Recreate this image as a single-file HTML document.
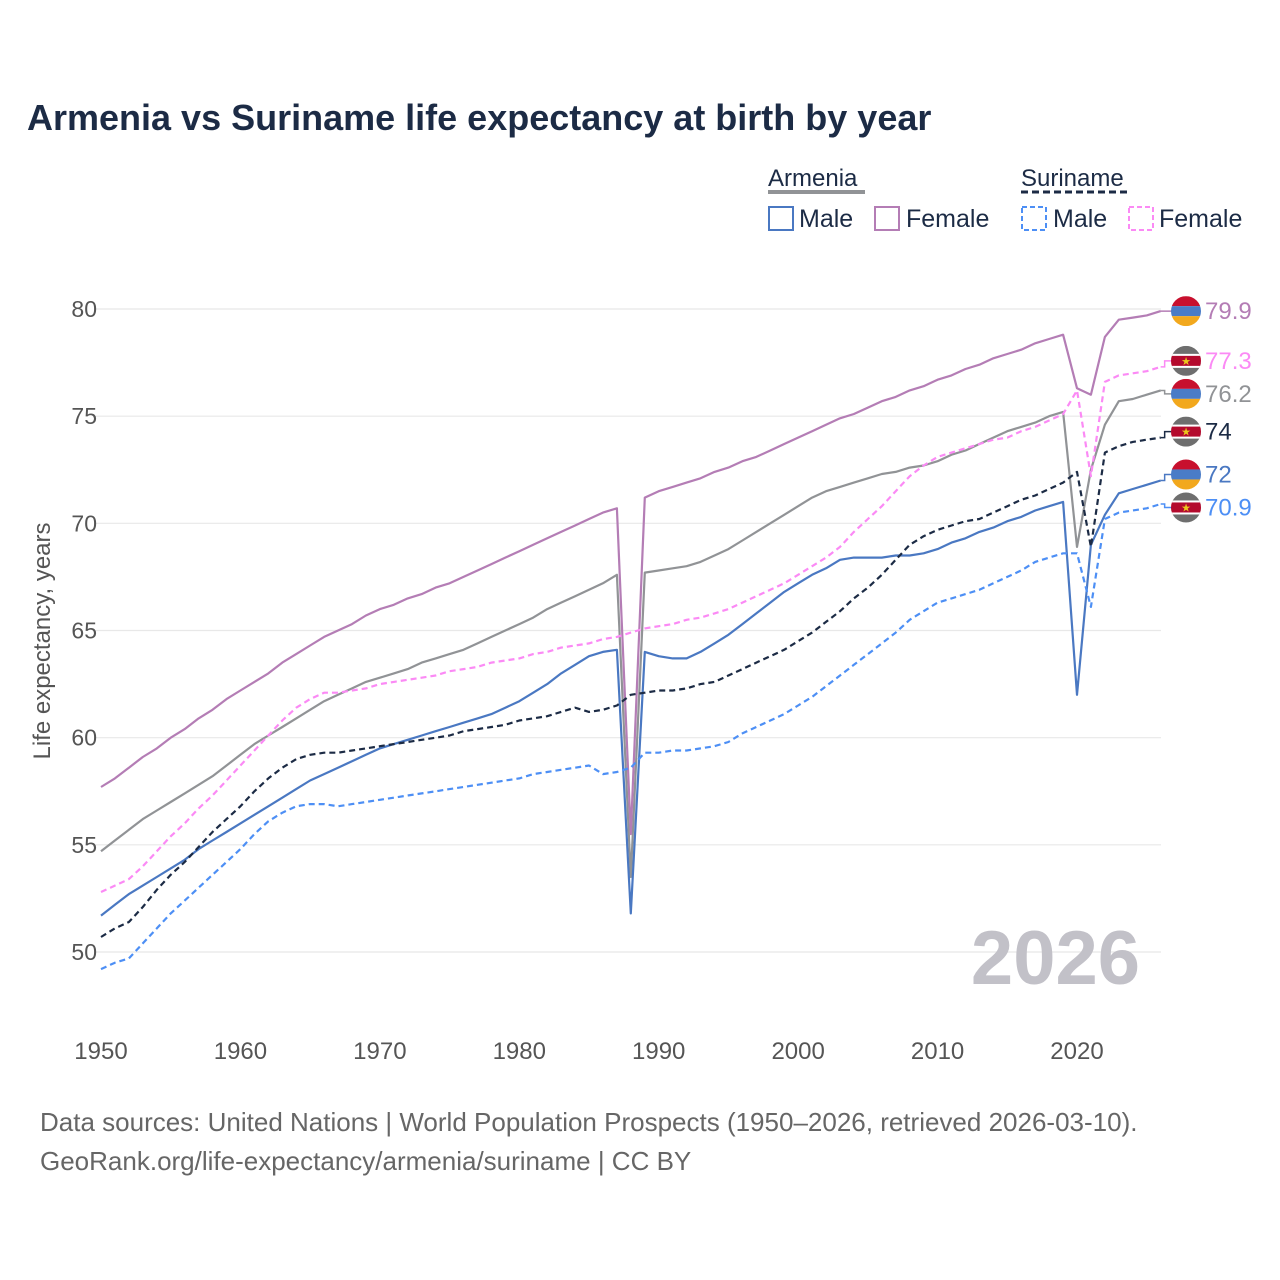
<!DOCTYPE html>
<html><head><meta charset="utf-8"><style>
html,body{margin:0;padding:0;background:#fff;}
svg{display:block;font-family:"Liberation Sans",sans-serif;}
</style></head><body>
<svg id="chart" width="1280" height="1280" viewBox="0 0 1280 1280" xmlns="http://www.w3.org/2000/svg">
<defs>
<clipPath id="fc"><circle cx="0" cy="0" r="15"/></clipPath>
</defs>
<text x="27" y="130" font-size="36" font-weight="bold" fill="#1c2b45">Armenia vs Suriname life expectancy at birth by year</text>
<g>
<text x="768" y="186" font-size="24" fill="#1c2b45">Armenia</text>
<line x1="768" y1="192" x2="865" y2="192" stroke="#919396" stroke-width="4"/>
<text x="1021" y="186" font-size="24" fill="#1c2b45">Suriname</text>
<line x1="1021" y1="192" x2="1129" y2="192" stroke="#1c2b45" stroke-width="3" stroke-dasharray="7,4"/>
<rect x="769" y="207" width="24" height="23" fill="none" stroke="#4a78c2" stroke-width="2"/>
<text x="799" y="227" font-size="25" fill="#1c2b45">Male</text>
<rect x="875" y="207" width="24" height="23" fill="none" stroke="#b47db5" stroke-width="2"/>
<text x="906" y="227" font-size="25" fill="#1c2b45">Female</text>
<rect x="1022" y="207" width="24" height="23" fill="none" stroke="#4d8ff5" stroke-width="2" stroke-dasharray="5,3"/>
<text x="1053" y="227" font-size="25" fill="#1c2b45">Male</text>
<rect x="1129" y="207" width="24" height="23" fill="none" stroke="#fb8af5" stroke-width="2" stroke-dasharray="5,3"/>
<text x="1159" y="227" font-size="25" fill="#1c2b45">Female</text>
</g>
<g id="grid"></g>
<g id="axes"></g>
<text x="1140" y="984" font-size="76" font-weight="bold" fill="#c2c1c8" text-anchor="end">2026</text>
<g id="series"></g>
<g id="labels"></g>
<text transform="translate(50,641) rotate(-90)" font-size="24" fill="#555" text-anchor="middle">Life expectancy, years</text>
<text x="40" y="1131" font-size="26" fill="#666">Data sources: United Nations | World Population Prospects (1950–2026, retrieved 2026-03-10).</text>
<text x="40" y="1170" font-size="26" fill="#666">GeoRank.org/life-expectancy/armenia/suriname | CC BY</text>
</svg>
<script>
const startYear = 1950;
const xTicks = [1950,1960,1970,1980,1990,2000,2010,2020];
const yTicks = [50,55,60,65,70,75,80];
const armeniaFemale = [57.7,58.1,58.6,59.1,59.5,60.0,60.4,60.9,61.3,61.8,62.2,62.6,63.0,63.5,63.9,64.3,64.7,65.0,65.3,65.7,66.0,66.2,66.5,66.7,67.0,67.2,67.5,67.8,68.1,68.4,68.7,69.0,69.3,69.6,69.9,70.2,70.5,70.7,55.5,71.2,71.5,71.7,71.9,72.1,72.4,72.6,72.9,73.1,73.4,73.7,74.0,74.3,74.6,74.9,75.1,75.4,75.7,75.9,76.2,76.4,76.7,76.9,77.2,77.4,77.7,77.9,78.1,78.4,78.6,78.8,76.3,76.0,78.7,79.5,79.6,79.7,79.9];
const armeniaTotal = [54.7,55.2,55.7,56.2,56.6,57.0,57.4,57.8,58.2,58.7,59.2,59.7,60.1,60.5,60.9,61.3,61.7,62.0,62.3,62.6,62.8,63.0,63.2,63.5,63.7,63.9,64.1,64.4,64.7,65.0,65.3,65.6,66.0,66.3,66.6,66.9,67.2,67.6,53.5,67.7,67.8,67.9,68.0,68.2,68.5,68.8,69.2,69.6,70.0,70.4,70.8,71.2,71.5,71.7,71.9,72.1,72.3,72.4,72.6,72.7,72.9,73.2,73.4,73.7,74.0,74.3,74.5,74.7,75.0,75.2,68.9,72.5,74.6,75.7,75.8,76.0,76.2];
const armeniaMale = [51.7,52.2,52.7,53.1,53.5,53.9,54.3,54.8,55.2,55.6,56.0,56.4,56.8,57.2,57.6,58.0,58.3,58.6,58.9,59.2,59.5,59.7,59.9,60.1,60.3,60.5,60.7,60.9,61.1,61.4,61.7,62.1,62.5,63.0,63.4,63.8,64.0,64.1,51.8,64.0,63.8,63.7,63.7,64.0,64.4,64.8,65.3,65.8,66.3,66.8,67.2,67.6,67.9,68.3,68.4,68.4,68.4,68.5,68.5,68.6,68.8,69.1,69.3,69.6,69.8,70.1,70.3,70.6,70.8,71.0,62.0,69.0,70.4,71.4,71.6,71.8,72.0];
const surinameFemale = [52.8,53.1,53.4,54.0,54.7,55.4,56.0,56.7,57.3,58.0,58.7,59.4,60.1,60.8,61.4,61.8,62.1,62.1,62.2,62.3,62.5,62.6,62.7,62.8,62.9,63.1,63.2,63.3,63.5,63.6,63.7,63.9,64.0,64.2,64.3,64.4,64.6,64.7,64.9,65.1,65.2,65.3,65.5,65.6,65.8,66.0,66.3,66.6,66.9,67.2,67.6,68.0,68.4,68.9,69.6,70.2,70.8,71.5,72.2,72.7,73.1,73.3,73.5,73.7,73.9,74.0,74.3,74.5,74.8,75.1,76.2,72.2,76.6,76.9,77.0,77.1,77.3];
const surinameTotal = [50.7,51.1,51.4,52.1,52.9,53.6,54.2,54.9,55.6,56.2,56.8,57.5,58.1,58.6,59.0,59.2,59.3,59.3,59.4,59.5,59.6,59.7,59.8,59.9,60.0,60.1,60.3,60.4,60.5,60.6,60.8,60.9,61.0,61.2,61.4,61.2,61.3,61.5,62.0,62.1,62.2,62.2,62.3,62.5,62.6,62.9,63.2,63.5,63.8,64.1,64.5,64.9,65.4,65.9,66.5,67.0,67.6,68.3,69.0,69.4,69.7,69.9,70.1,70.2,70.5,70.8,71.1,71.3,71.6,71.9,72.4,68.9,73.3,73.6,73.8,73.9,74.0];
const surinameMale = [49.2,49.5,49.7,50.4,51.1,51.8,52.4,53.0,53.6,54.2,54.8,55.5,56.1,56.5,56.8,56.9,56.9,56.8,56.9,57.0,57.1,57.2,57.3,57.4,57.5,57.6,57.7,57.8,57.9,58.0,58.1,58.3,58.4,58.5,58.6,58.7,58.3,58.4,58.6,59.3,59.3,59.4,59.4,59.5,59.6,59.8,60.2,60.5,60.8,61.1,61.5,61.9,62.4,62.9,63.4,63.9,64.4,64.9,65.5,65.9,66.3,66.5,66.7,66.9,67.2,67.5,67.8,68.2,68.4,68.6,68.6,66.1,70.2,70.5,70.6,70.7,70.9];
const endLabels = ["79.9","77.3","76.2","74","72","70.9"];

const NS="http://www.w3.org/2000/svg";
const X0=101, X1=1077, Y80=309, Y50=952;
function xs(yr){return X0+(yr-1950)*(X1-X0)/70;}
function ys(v){return Y50-(v-50)*(Y50-Y80)/30;}
function mk(tag,attrs,parent){const e=document.createElementNS(NS,tag);for(const k in attrs)e.setAttribute(k,attrs[k]);parent.appendChild(e);return e;}

const grid=document.getElementById('grid'), axes=document.getElementById('axes');
yTicks.forEach(t=>{
  const l=mk('line',{x1:95,x2:1161,y1:ys(t),y2:ys(t),stroke:'#e8e8e8','stroke-width':1.2},grid);
  
  
  const tx=mk('text',{x:97,y:ys(t)+8,'font-size':23,fill:'#555','text-anchor':'end'},axes);
  tx.textContent=t;
  
  
});
xTicks.forEach(t=>{
  const tx=mk('text',{x:xs(t),y:1059,'font-size':24,fill:'#555','text-anchor':'middle'},axes);
  tx.textContent=t;
  
  
});

const seriesList=[
 {name:'armenia-female',d:armeniaFemale,c:'#b47db5',dash:null,flag:'am'},
 {name:'suriname-female',d:surinameFemale,c:'#fb8af5',dash:'6,4',flag:'sr'},
 {name:'armenia-total',d:armeniaTotal,c:'#919396',dash:null,flag:'am'},
 {name:'suriname-total',d:surinameTotal,c:'#1c2b45',dash:'6,4',flag:'sr'},
 {name:'armenia-male',d:armeniaMale,c:'#4a78c2',dash:null,flag:'am'},
 {name:'suriname-male',d:surinameMale,c:'#4d8ff5',dash:'6,4',flag:'sr'}
];
const drawOrder=[2,0,4,3,1,5];
const sg=document.getElementById('series'), lg=document.getElementById('labels');
drawOrder.forEach(i=>{
  const s=seriesList[i];
  const pts=s.d.map((v,k)=>xs(startYear+k).toFixed(1)+','+ys(v).toFixed(1)).join(' ');
  const a={points:pts,fill:'none',stroke:s.c,'stroke-width':2.2,'stroke-linejoin':'round'};
  if(s.dash)a['stroke-dasharray']=s.dash;
  const pl=mk('polyline',a,sg);
  
  
});
const order=seriesList.map((s,i)=>({i,y:ys(s.d[s.d.length-1])})).sort((a,b)=>a.y-b.y);
let prev=-1e9;
order.forEach(o=>{let y=Math.max(o.y-6,prev+33);if(o.i===0)y=o.y;o.ly=y;prev=y;});
order.forEach(o=>{
  const s=seriesList[o.i];
  const lastX=xs(startYear+s.d.length-1), lastY=o.y, ly=o.ly;
  const con=mk('polyline',{points:`${lastX},${lastY} ${lastX+4},${lastY} ${lastX+4},${ly} ${lastX+12},${ly}`,fill:'none',stroke:s.c,'stroke-width':1.5},lg);
  
  
  const g=mk('g',{transform:`translate(1186,${ly})`,'clip-path':'url(#fc)'},lg);
  
  
  if(s.flag==='am'){
    mk('rect',{x:-15,y:-15,width:30,height:10,fill:'#c8102e'},g);
    mk('rect',{x:-15,y:-5,width:30,height:10,fill:'#4a7cc7'},g);
    mk('rect',{x:-15,y:5,width:30,height:10,fill:'#f2a81d'},g);
  } else {
    mk('rect',{x:-15,y:-15,width:30,height:30,fill:'#6e6e6e'},g);
    mk('rect',{x:-15,y:-7,width:30,height:14,fill:'#fff'},g);
    mk('rect',{x:-15,y:-5,width:30,height:10,fill:'#b40a2d'},g);
    const st=mk('text',{x:0,y:4,'font-size':11,fill:'#ecc81d','text-anchor':'middle'},g);
    st.textContent='★';
  }
  const t=mk('text',{x:1205,y:ly+8,'font-size':24,fill:s.c},lg);
  t.textContent=endLabels[o.i];
  
  
});
</script>
</body></html>
